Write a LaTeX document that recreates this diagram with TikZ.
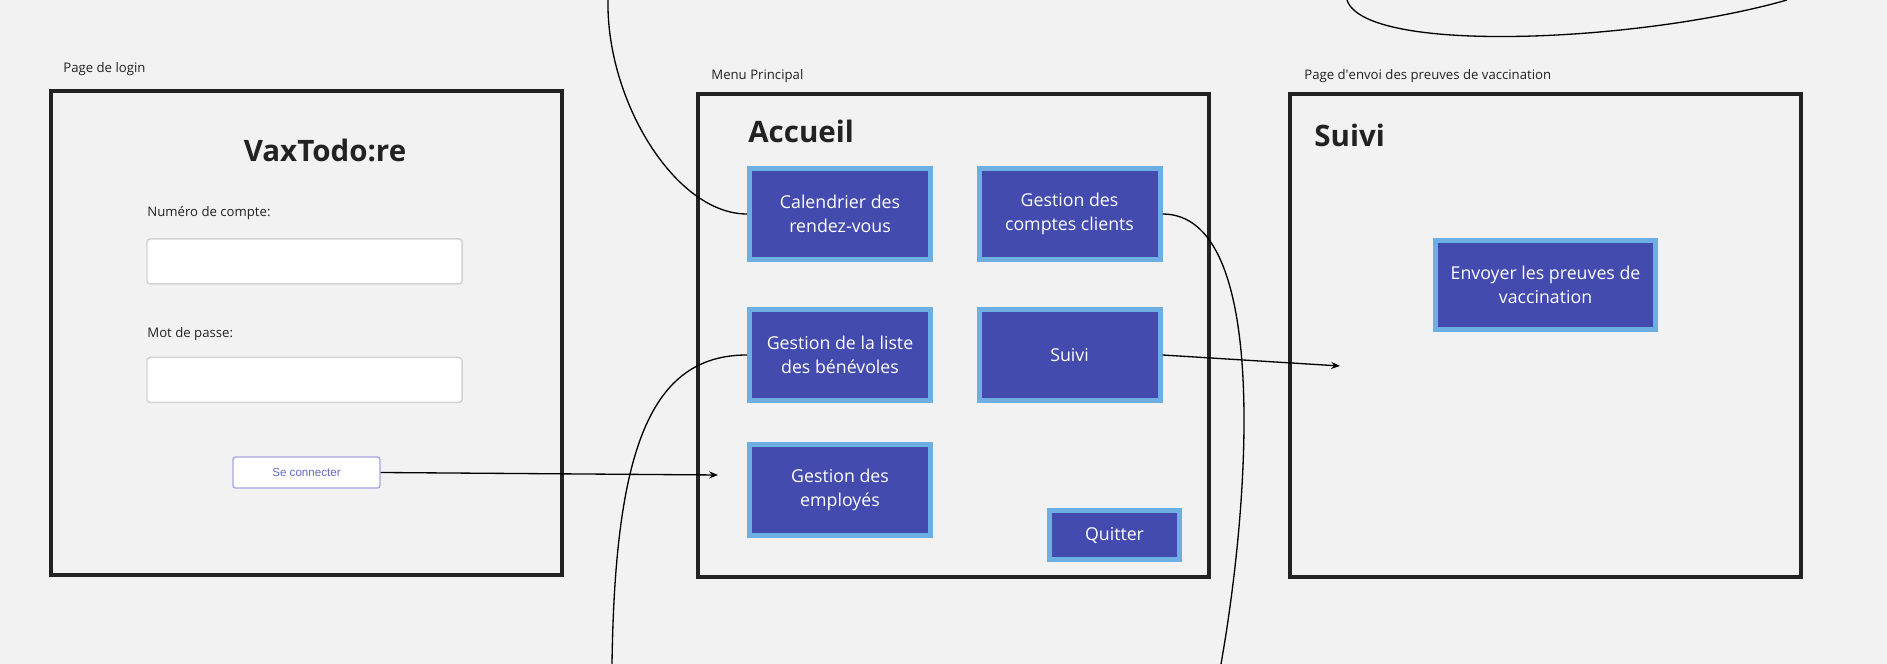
\documentclass[tikz,border=0pt]{standalone}
\usepackage{fontspec}
\setmainfont{Open Sans}
\newfontfamily\arialfont{Liberation Sans}
\usetikzlibrary{shapes}
\usetikzlibrary{arrows.meta}

\definecolor{fond}{HTML}{F2F2F2}
\definecolor{cadre}{HTML}{222222}
\definecolor{bouton}{HTML}{434BAE}
\definecolor{bord}{HTML}{6EAFE3}
\definecolor{champ}{HTML}{D2D2D2}
\definecolor{lien}{HTML}{6468CC}
\definecolor{lienbord}{HTML}{A3A6E6}

\begin{document}
\begin{tikzpicture}[x=0.2mm,y=-0.2mm]
        \tikzstyle{page} = [draw=cadre, line width=2.28pt, minimum width=102.2mm, minimum height=96.7mm, inner sep=0pt]
        \tikzstyle{block} = [draw=bord, fill=bouton, line width=2.85pt, text=white, align=center,
                             minimum width=36.2mm, minimum height=18.2mm, inner sep=0pt,
                             font=\fontsize{10.1}{13.7}\selectfont]
        \tikzstyle{champ} = [draw=champ, fill=white, line width=0.85pt, rounded corners=0.6mm,
                             minimum width=63mm, minimum height=9mm, inner sep=0pt]
        \tikzstyle{etiquette} = [anchor=base west, inner sep=0pt, text=cadre, font=\fontsize{7.5}{9}\selectfont]
        \tikzstyle{titre} = [inner sep=0pt, text=cadre, font=\fontsize{16.8}{20}\selectfont\bfseries]
        \tikzstyle{link} = [draw=black, line width=0.75pt]
        \tikzstyle{arr} = [link, ->, >={Stealth[length=5pt,width=4pt]}]

        \fill[fond] (0,0) rectangle (1887,664);
        \useasboundingbox (0,0) rectangle (1887,664);

        \node[page] (login) at (306.5,333) {};
        \node[page] (menu) at (953,335.5) {};
        \node[page] (envoi) at (1545.5,335.5) {};

        \node[etiquette] (lblLogin) at (63,73) {Page de login};
        \node[etiquette] (lblMenu) at (711,79.5) {Menu Principal};
        \node[etiquette] (lblEnvoi) at (1304,79.5) {Page d\textquotesingle envoi des preuves de vaccination};

        \node[titre, anchor=base] (vax) at (325,162) {VaxTodo:re};
        \node[etiquette] (lblCompte) at (147,217) {Numéro de compte:};
        \node[champ] (compte) at (304.5,261.5) {};
        \node[etiquette] (lblPasse) at (147,338) {Mot de passe:};
        \node[champ] (passe) at (304.5,380) {};
        \node[draw=lienbord, fill=white, line width=0.75pt, rounded corners=0.5mm, minimum width=29.4mm,
              minimum height=6.2mm, inner sep=0pt, text=lien, font=\arialfont\fontsize{6.6}{8}\selectfont]
              (conn) at (306.5,472.5) {Se connecter};

        \node[titre, anchor=base west] (accueil) at (748,143) {Accueil};
        \node[block] (cal) at (840,214) {Calendrier des\\rendez-vous};
        \node[block] (comptes) at (1069.5,214) {Gestion des\\comptes clients};
        \node[block] (benev) at (840,355) {Gestion de la liste\\des bénévoles};
        \node[block] (suivi) at (1069.5,355) {Suivi};
        \node[block] (employes) at (840,490) {Gestion des\\employés};
        \node[block, minimum width=26mm, minimum height=9.8mm] (quitter) at (1114.5,535) {Quitter};

        \node[titre, anchor=base west] (titreSuivi) at (1314,147) {Suivi};
        \node[block, minimum width=44mm, minimum height=17.8mm] (envoyer) at (1545.5,285) {Envoyer les preuves de\\vaccination};

        \coordinate (calTop) at (608,0);
        \coordinate (benBot) at (612,664);
        \coordinate (cptBot) at (1221,664);
        \coordinate (menuIn) at (718,475);
        \coordinate (suiviIn) at (1340,366);
        \coordinate (hautA) at (1347,0);
        \coordinate (hautB) at (1787,0);

        \draw[link] (calTop) .. controls (606,100) and (675,214) .. (cal.west);
        \draw[link] (benBot) .. controls (615,450) and (650,355) .. (benev.west);
        \draw[link] (comptes.east) .. controls (1270,214) and (1250,500) .. (cptBot);
        \draw[link] (hautA) .. controls (1365,55) and (1640,42) .. (hautB);
        \draw[arr] (conn.east) -- (menuIn);
        \draw[arr] (suivi.east) -- (suiviIn);
\end{tikzpicture}
\end{document}
